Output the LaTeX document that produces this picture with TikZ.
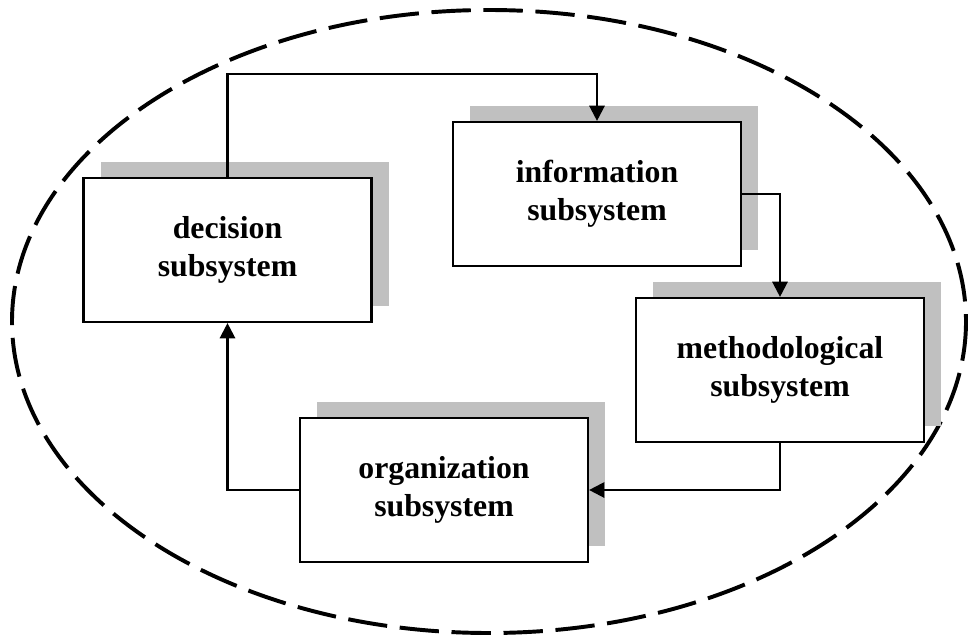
\documentclass[tikz,border=0pt]{standalone}
\usepackage{fontspec}
\setmainfont{Liberation Serif}
\definecolor{shGray}{RGB}{192, 192, 192}
\usepackage{tikz}
\usetikzlibrary{arrows.meta, positioning, shadows}

\begin{document}
\begin{tikzpicture}[x=0.025cm, y=-0.025cm,
    subsys/.style={draw, fill=white, line width=1.5pt, minimum width=7.2cm, minimum height=3.6cm,
      align=center, font=\fontsize{22.6}{27}\selectfont\bfseries,
      copy shadow={shadow xshift=0.43cm, shadow yshift=0.4cm, fill=shGray, draw=none}},
    flow/.style={line width=1.6pt, -{Triangle[length=0.38cm, width=0.38cm]}}]
  \useasboundingbox (0,0) rectangle (968,639);
  \draw[line width=2.8pt, dash pattern=on 28pt off 9pt] (489,321.5) ellipse [x radius=477, y radius=311.5];

  \node[subsys] (dec) at (227.5,250) {decision\\subsystem};
  \node[subsys] (inf) at (597,194) {information\\subsystem};
  \node[subsys] (meth) at (780,370) {methodological\\subsystem};
  \node[subsys] (org) at (444,490) {organization\\subsystem};

  \coordinate (loopTop) at (400,74);
  \draw[flow] (dec.north) |- (loopTop) -| (inf.north);
  \draw[flow] (inf.east) -| (meth.north);
  \draw[flow] (meth.south) |- (org.east);
  \draw[flow] (org.west) -| (dec.south);
\end{tikzpicture}
\end{document}
